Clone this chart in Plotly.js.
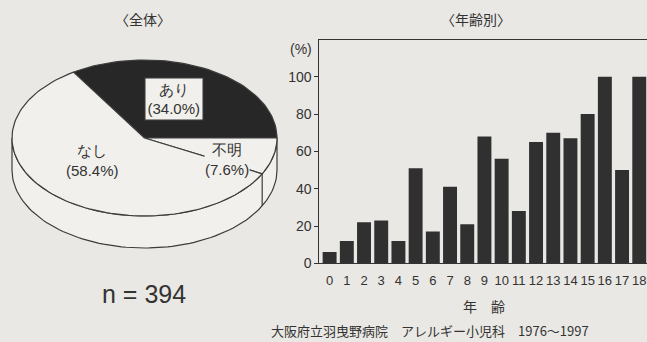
<!DOCTYPE html>
<html>
<head>
<meta charset="utf-8">
<script src="https://cdn.plot.ly/plotly-3.0.1.min.js"></script>
<style>html,body{margin:0;padding:0;background:#e9e8e4;}#chart{width:647px;height:342px;}</style>
</head>
<body>
<div id="chart"></div>
<script>
// ---- Data ----
const pieLabels = ["あり", "不明", "なし"];
const pieValues = [34.0, 7.6, 58.4];
const nTotal = 394;

const ages = [0,1,2,3,4,5,6,7,8,9,10,11,12,13,14,15,16,17,18];
const ageRates = [6,12,22,23,12,51,17,41,21,68,56,28,65,70,67,80,100,50,100];
const yTicks = [0,20,40,60,80,100];

// ---- Styling / geometry constants ----
const BG = "#e9e8e4";
const FACE = "#f1f0ec";
const DARK = "#272727";
const INK = "#333333";
const LINE = "#3c3c3c";
const JP = "'Noto Sans CJK JP', 'Noto Sans', sans-serif";
const NUM = "'Liberation Sans', Arial, sans-serif";

// ellipse (pixel units on x2/y2)
const cx = 144.5, cy = 138, rx = 132.5, ry = 78, depth = 32;
function pt(deg, dy) {
  const a = deg * Math.PI / 180;
  return [cx + rx * Math.cos(a), cy - ry * Math.sin(a) + (dy || 0)];
}

const total = pieValues.reduce((a, b) => a + b, 0);
const deg = pieValues.map(v => v / total * 360);
const start = -deg[1];
const spans = {
  "不明": [start, 0],
  "あり": [0, deg[0]],
  "なし": [deg[0], deg[0] + deg[2]]
};

const traces = [];

// side wall (front half)
(function () {
  const xs = [], ys = [];
  for (let d = 180; d <= 360; d += 2) { const p = pt(d, 0); xs.push(p[0]); ys.push(p[1]); }
  for (let d = 360; d >= 180; d -= 2) { const p = pt(d, depth); xs.push(p[0]); ys.push(p[1]); }
  xs.push(xs[0]); ys.push(ys[0]);
  traces.push({x: xs, y: ys, xaxis: "x2", yaxis: "y2", mode: "lines", fill: "toself",
    fillcolor: FACE, line: {color: LINE, width: 1.2}, hoverinfo: "skip", showlegend: false});
})();

// top face slices
pieLabels.forEach((lab) => {
  const [a0, a1] = spans[lab];
  const xs = [cx], ys = [cy];
  const steps = Math.max(4, Math.ceil((a1 - a0) / 2));
  for (let k = 0; k <= steps; k++) {
    const p = pt(a0 + (a1 - a0) * k / steps, 0); xs.push(p[0]); ys.push(p[1]);
  }
  xs.push(cx); ys.push(cy);
  traces.push({x: xs, y: ys, xaxis: "x2", yaxis: "y2", mode: "lines", fill: "toself",
    fillcolor: lab === "あり" ? DARK : FACE, line: {color: LINE, width: 1.2},
    hoverinfo: "skip", showlegend: false});
});

// vertical boundary line on side wall for 不明/なし
(function () {
  const p0 = pt(start, 0), p1 = pt(start, depth);
  traces.push({x: [p0[0], p1[0]], y: [p0[1], p1[1]], xaxis: "x2", yaxis: "y2",
    mode: "lines", line: {color: LINE, width: 1.2}, hoverinfo: "skip", showlegend: false});
})();

// bars
traces.push({
  type: "bar", x: ages, y: ageRates, marker: {color: "#303030", line: {width: 0}},
  hoverinfo: "x+y", showlegend: false
});

const pctText = v => "(" + v.toFixed(1) + "%)";

function paperNote(text, px, py, font, extra) {
  return Object.assign({text: text, xref: "paper", yref: "paper", x: px / 647, y: 1 - py / 342,
    xanchor: "center", yanchor: "middle", showarrow: false, font: font}, extra || {});
}

const layout = {
  width: 647, height: 342, autosize: false,
  margin: {l: 0, r: 0, t: 0, b: 0, pad: 0},
  paper_bgcolor: BG, plot_bgcolor: BG,
  bargap: 0.19,
  showlegend: false,
  xaxis: {
    domain: [0.4935, 1], range: [-0.6, 18.45],
    tickvals: ages, ticktext: ages.map(String), tickangle: 0,
    showline: true, linecolor: INK, linewidth: 1, mirror: true,
    ticks: "", showgrid: false, zeroline: false, ticklabelstandoff: 5,
    tickfont: {family: NUM, size: 13, color: INK}
  },
  yaxis: {
    domain: [0.2301, 0.8845], range: [0, 120],
    tickvals: yTicks, ticktext: yTicks.map(String),
    showline: true, linecolor: INK, linewidth: 1,
    ticks: "outside", ticklen: 4, tickcolor: INK,
    showgrid: false, zeroline: false,
    tickfont: {family: NUM, size: 14, color: INK}
  },
  xaxis2: {domain: [0, 0.45], range: [0, 647 * 0.45], visible: false, fixedrange: true},
  yaxis2: {domain: [0, 1], range: [342, 0], visible: false, fixedrange: true},
  annotations: [
    paperNote("〈全体〉", 143, 19, {family: JP, size: 14, color: INK}),
    paperNote("〈年齢別〉", 476, 19, {family: JP, size: 14, color: INK}),
    paperNote("(%)", 301, 49, {family: NUM, size: 14, color: INK}),
    paperNote("年　齢", 483.5, 305.5, {family: JP, size: 14, color: INK}),
    paperNote("大阪府立羽曳野病院　アレルギー小児科　1976～1997", 269, 330,
      {family: JP, size: 13, color: INK}, {xanchor: "left"}),
    paperNote("n = " + nTotal, 144, 293.5, {family: NUM, size: 25, color: INK}),
    {text: pieLabels[0] + "<br>" + pctText(pieValues[0]), xref: "x2", yref: "y2", x: 174, y: 99,
      showarrow: false, bgcolor: FACE, bordercolor: INK, borderwidth: 1.5, borderpad: 2,
      font: {family: NUM, size: 15, color: INK}},
    {text: pieLabels[1] + "<br>" + pctText(pieValues[1]), xref: "x2", yref: "y2", x: 227, y: 159,
      showarrow: false, bgcolor: FACE, borderpad: 0,
      font: {family: NUM, size: 15, color: INK}},
    {text: pieLabels[2] + "<br>" + pctText(pieValues[2]), xref: "x2", yref: "y2", x: 92, y: 160,
      showarrow: false, font: {family: NUM, size: 15, color: INK}}
  ]
};

Plotly.newPlot("chart", traces, layout, {displayModeBar: false, staticPlot: true});
</script>
</body>
</html>
